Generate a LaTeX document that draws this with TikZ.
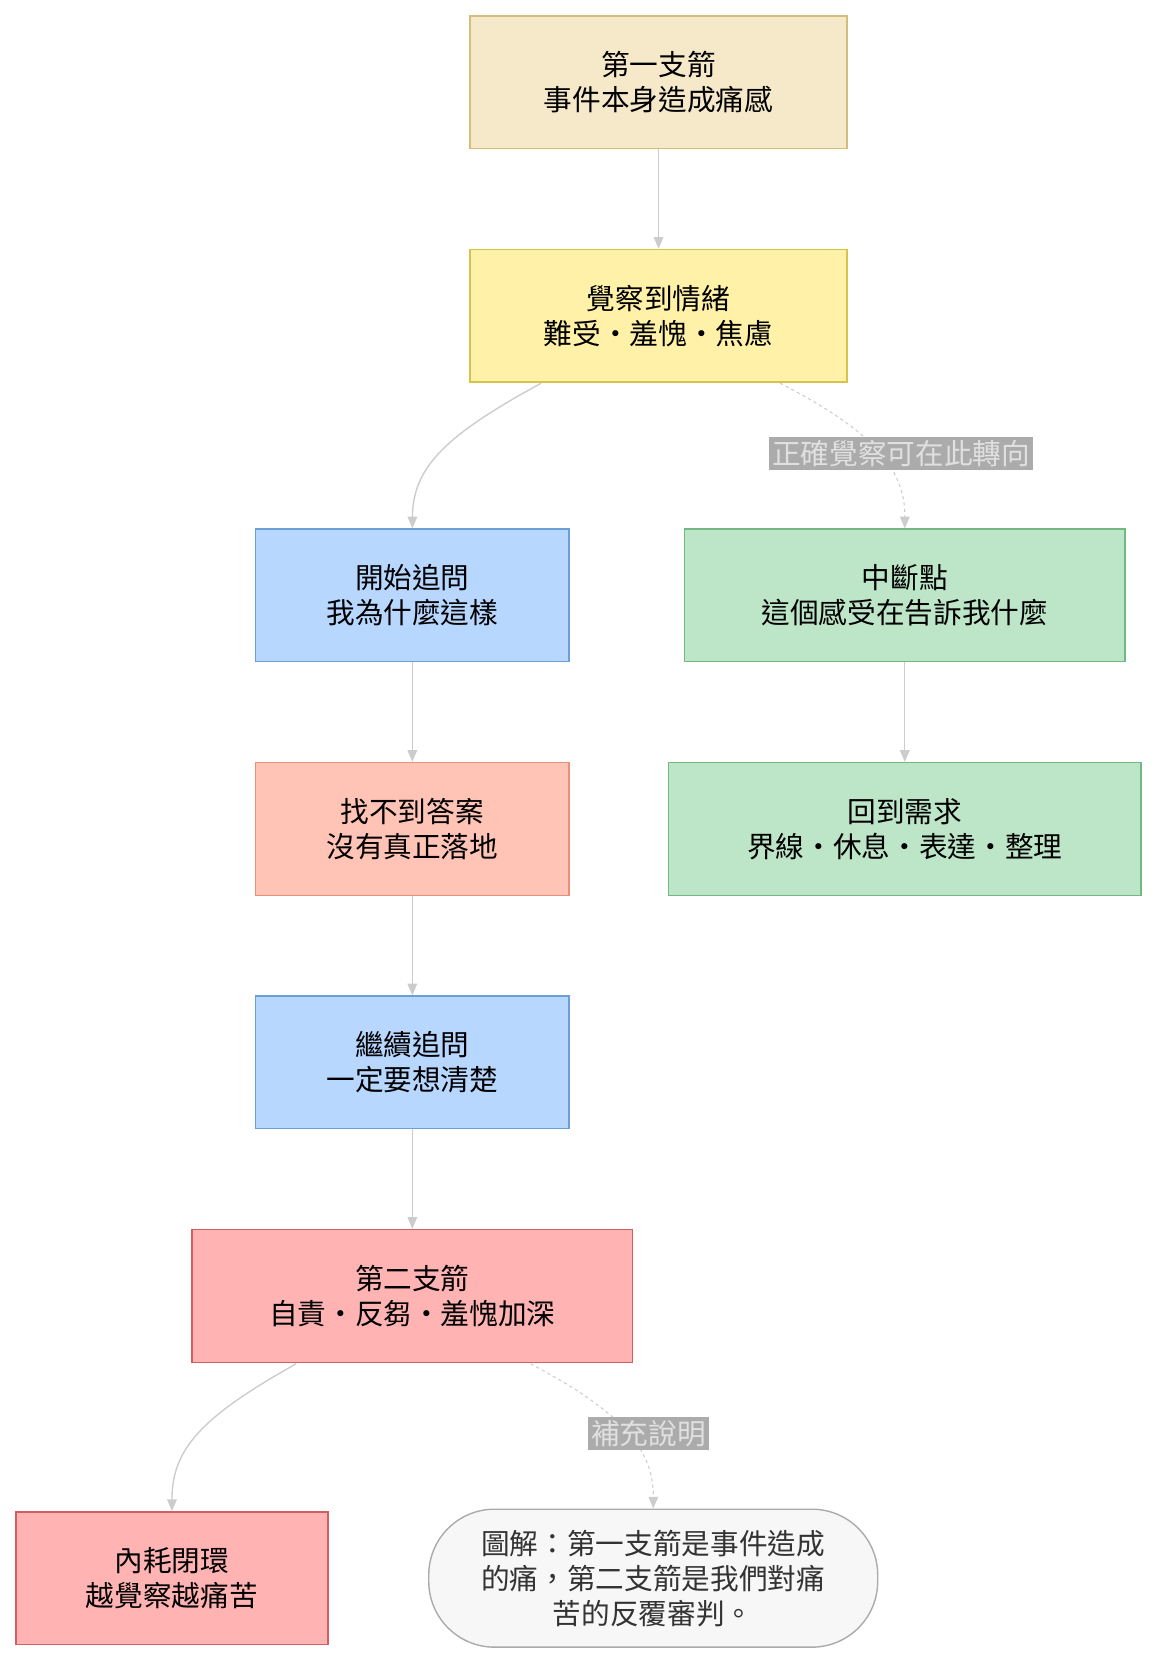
\documentclass[tikz,border=0pt]{standalone}
\usepackage{fontspec}
\setmainfont{Noto Sans CJK TC}
\usetikzlibrary{arrows.meta}
\definecolor{e}{HTML}{CCCCCC}
\begin{document}
\begin{tikzpicture}[x=1pt,y=-1pt,
 bx/.style={draw,line width=1.3pt,minimum width=#1,minimum height=125pt,align=center,font=\fontsize{27}{33}\selectfont,inner sep=0pt},
 ed/.style={draw=e,line width=1.3pt,-{Triangle[length=11pt,width=9pt]}},
 dl/.style={fill=black!33,text=black!12,font=\fontsize{27}{32}\selectfont,inner sep=3pt}]
\useasboundingbox (0,0) rectangle (1090,1566);
\node[bx=355pt,fill={rgb,255:red,245;green,233;blue,201},draw={rgb,255:red,212;green,188;blue,122}] (n1) at (620.5,77.5) {第一支箭\\事件本身造成痛感};
\node[bx=355pt,fill={rgb,255:red,255;green,242;blue,168},draw={rgb,255:red,217;green,194;blue,74}] (n2) at (620.5,297.5) {覺察到情緒\\難受・羞愧・焦慮};
\node[bx=295pt,fill={rgb,255:red,183;green,215;blue,255},draw={rgb,255:red,106;green,159;blue,216}] (n3) at (388.5,561) {開始追問\\我為什麼這樣};
\node[bx=415pt,fill={rgb,255:red,189;green,230;blue,200},draw={rgb,255:red,114;green,184;blue,131}] (n4) at (852.5,561) {中斷點\\這個感受在告訴我什麼};
\node[bx=295pt,fill={rgb,255:red,255;green,196;blue,181},draw={rgb,255:red,232;green,144;blue,122}] (n5) at (388.5,781) {找不到答案\\沒有真正落地};
\node[bx=445pt,fill={rgb,255:red,189;green,230;blue,200},draw={rgb,255:red,114;green,184;blue,131}] (n6) at (852.5,781) {回到需求\\界線・休息・表達・整理};
\node[bx=295pt,fill={rgb,255:red,183;green,215;blue,255},draw={rgb,255:red,106;green,159;blue,216}] (n7) at (388.5,1001) {繼續追問\\一定要想清楚};
\node[bx=415pt,fill={rgb,255:red,255;green,179;blue,179},draw={rgb,255:red,208;green,96;blue,96}] (n8) at (388.5,1221) {第二支箭\\自責・反芻・羞愧加深};
\node[bx=294pt,fill={rgb,255:red,255;green,179;blue,179},draw={rgb,255:red,208;green,96;blue,96}] (n9) at (162,1487) {內耗閉環\\越覺察越痛苦};
\node[bx=423pt,minimum height=130pt,rounded corners=62pt,fill={rgb,255:red,247;green,247;blue,247},draw={rgb,255:red,170;green,170;blue,170},text={rgb,255:red,51;green,51;blue,51}] (n10) at (615.5,1487) {圖解：第一支箭是事件造成\\的痛，第二支箭是我們對痛\\苦的反覆審判。};
\coordinate (a) at (510,361); \coordinate (b) at (735,361);
\coordinate (c) at (279,1285); \coordinate (d) at (500,1285);
\draw[ed] (n1) -- (n2);
\draw[ed] (a) .. controls (420,410) and (389,440) .. (n3.north);
\draw[ed,dashed,line width=1pt] (b) .. controls (820,405) and (853,440) .. (n4.north);
\node[dl] (l1) at (849,427) {正確覺察可在此轉向};
\draw[ed] (n3) -- (n5);
\draw[ed] (n4) -- (n6);
\draw[ed] (n5) -- (n7);
\draw[ed] (n7) -- (n8);
\draw[ed] (c) .. controls (190,1335) and (162,1365) .. (n9.north);
\draw[ed,dashed,line width=1pt] (d) .. controls (585,1330) and (616,1365) .. (n10.north);
\node[dl] (l2) at (611,1351) {補充說明};
\end{tikzpicture}
\end{document}
